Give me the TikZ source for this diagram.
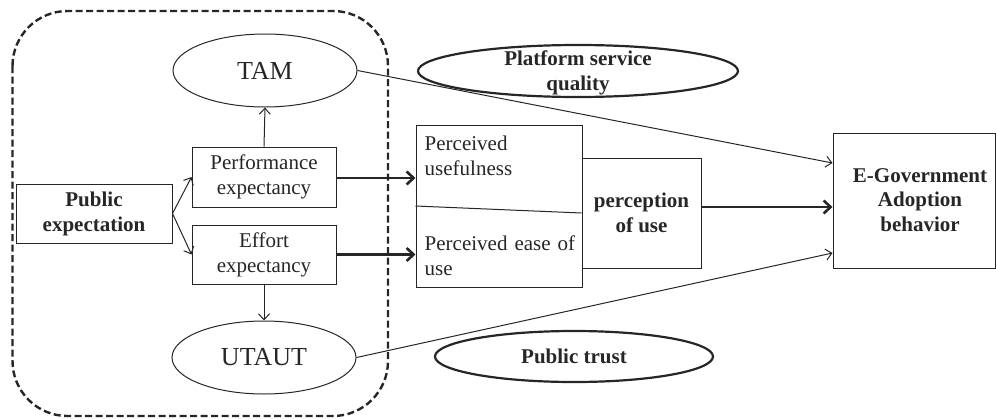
\documentclass[tikz,border=0pt]{standalone}
\usepackage{fontspec}
\setmainfont{Liberation Serif}
\usetikzlibrary{shapes.geometric,arrows.meta,calc}
\colorlet{ink}{black!85}
\tikzset{
  box/.style={draw=ink,line width=1pt,rectangle,inner sep=0pt,text=ink,align=center,font=\fontsize{21}{25}\selectfont},
  oval/.style={draw=ink,line width=1pt,ellipse,inner sep=0pt,text=ink,font=\fontsize{26}{30}\selectfont},
  boldoval/.style={draw=ink,line width=2.2pt,ellipse,inner sep=0pt},
  txt/.style={inner sep=0pt,text=ink,font=\fontsize{21}{25}\selectfont},
  thin arrow/.style={draw=ink,line width=1pt,-{Straight Barb[length=6pt,width=11pt]}},
  thick arrow/.style={draw=ink,line width=2.6pt,-{Straight Barb[length=7pt,width=13pt]}},
  group/.style={draw=ink,line width=2.4pt,dash pattern=on 7pt off 3.5pt,rounded corners=55pt}
}
\begin{document}
\begin{tikzpicture}[x=1pt,y=-1pt]
\useasboundingbox (0,0) rectangle (996,418);

% grouping frame around the expectation models
\draw[group] (12.5,11) rectangle (388,416);

% left-hand group
\node[box,minimum width=156pt,minimum height=59pt,font=\fontsize{21}{25}\selectfont\bfseries] (pub) at (94,213.5) {Public\\expectation};
\node[box,minimum width=144pt,minimum height=60pt] (perf) at (264,177) {Performance\\expectancy};
\node[box,minimum width=144pt,minimum height=59pt] (eff) at (264,254.5) {Effort\\expectancy};
\node[oval,minimum width=184pt,minimum height=73pt] (tam) at (265,70.5) {TAM};
\node[oval,minimum width=184pt,minimum height=73pt] (utaut) at (264,357.5) {UTAUT};

% perceived factors
\node[box,minimum width=166pt,minimum height=162pt] (perc) at (499,206) {};
\node[txt,anchor=north west,text width=155pt,align=left] (pu) at ($(perc.north west)+(9,11)$) {Perceived\\usefulness};
\node[txt,anchor=north west,text width=155pt,align=left] (peou) at ($(perc.north west)+(9,111)$) {Perceived ease of\\use};
\node[box,minimum width=119pt,minimum height=110pt,font=\fontsize{21}{25}\selectfont\bfseries] (puse) at (641.5,213) {perception\\of use};
\draw[ink,line width=1pt] (perc.west) -- (puse.west);

% outcome
\node[box,minimum width=162pt,minimum height=135pt] (egov) at (914,200.5) {};
\node[txt,align=center,font=\fontsize{21}{24.5}\selectfont\bfseries] (egovtxt) at (920,200) {E-Government\\Adoption\\behavior};

% moderating factors
\node[boldoval,minimum width=320pt,minimum height=52pt] (psq) at (578,71) {};
\node[txt,align=center,font=\fontsize{21}{25}\selectfont\bfseries] (psqtxt) at (578,72.5) {Platform service\\quality};
\node[boldoval,minimum width=278pt,minimum height=51pt] (trust) at (574,356.5) {};
\node[txt,font=\fontsize{21}{25}\selectfont\bfseries] (trusttxt) at (574,356) {Public trust};

% connectors
\draw[thin arrow] (pub.east) -- (perf.west);
\draw[thin arrow] (pub.east) -- (eff.west);
\draw[thin arrow] (perf.north) -- (tam.south);
\draw[thin arrow] (eff.south) -- (utaut.north);
\draw[thick arrow] ($(perf.east)+(0,1)$) -- (perc.west |- {$(perf.east)+(0,1)$});
\draw[thick arrow] (eff.east) -- (perc.west |- eff.east);
\draw[thick arrow] ($(puse.east)+(0,-6)$) -- (egov.west |- {$(puse.east)+(0,-6)$});
\draw[thin arrow] (tam.east) -- ($(egov.west)+(0,-37.5)$);
\draw[thin arrow] (utaut.east) -- ($(egov.west)+(0,52.5)$);
\end{tikzpicture}
\end{document}
